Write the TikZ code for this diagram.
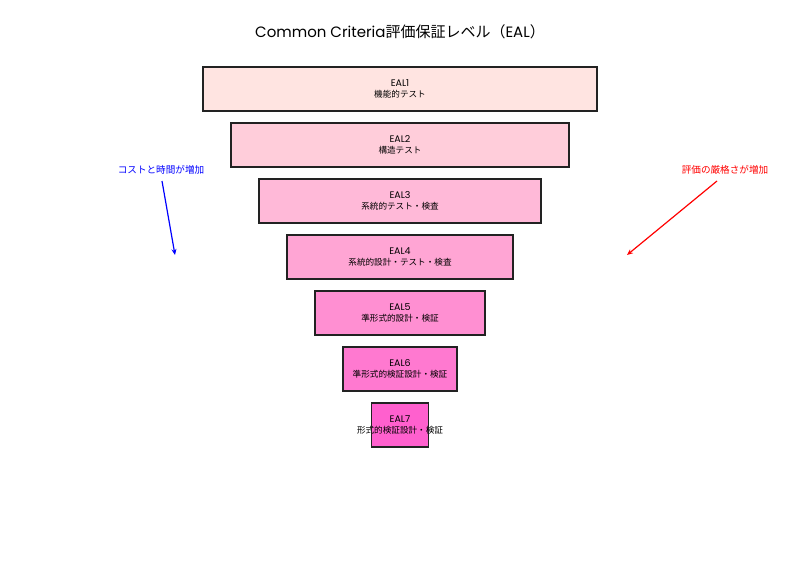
\documentclass[tikz,border=0pt]{standalone}
\usepackage{fontspec}
\setmainfont{Poppins}
\newfontfamily\jp{Noto Sans CJK JP}
\usetikzlibrary{arrows.meta}
\definecolor{c1}{RGB}{255,228,225}
\definecolor{c2}{RGB}{255,205,218}
\definecolor{c3}{RGB}{255,185,216}
\definecolor{c4}{RGB}{255,165,212}
\definecolor{c5}{RGB}{255,143,210}
\definecolor{c6}{RGB}{255,121,208}
\definecolor{c7}{RGB}{255,96,206}
\definecolor{edge}{RGB}{34,34,34}
\tikzset{
  lvl/.style={draw=edge, line width=1.6pt, minimum height=44pt, inner sep=0pt, outer sep=0pt},
  lbl/.style={align=center, inner sep=0pt, text=black},
  note/.style={font=\jp\fontsize{9.6}{11}\selectfont},
}
\newcommand{\lv}[2]{{\fontsize{9.5}{11}\selectfont #1}\\[-1pt]{\jp\fontsize{8.6}{10}\selectfont #2}}
\begin{document}
\begin{tikzpicture}[x=1pt,y=-1pt]
\useasboundingbox (0,0) rectangle (800,570);
\node (title) at (400,32) {\fontsize{15}{17}\selectfont Common Criteria{\jp 評価保証レベル（}EAL{\jp ）}};
\node[lvl, fill=c1, minimum width=394pt] (e1) at (400,89) {};
\node[lvl, fill=c2, minimum width=338pt] (e2) at (400,145) {};
\node[lvl, fill=c3, minimum width=282pt] (e3) at (400,201) {};
\node[lvl, fill=c4, minimum width=226pt] (e4) at (400,257) {};
\node[lvl, fill=c5, minimum width=170pt] (e5) at (400,313) {};
\node[lvl, fill=c6, minimum width=114pt] (e6) at (400,369) {};
\node[lvl, fill=c7, minimum width=57pt] (e7) at (400,425) {};
\node[lbl] (t1) at (e1.center) {\lv{EAL1}{機能的テスト}};
\node[lbl] (t2) at (e2.center) {\lv{EAL2}{構造テスト}};
\node[lbl] (t3) at (e3.center) {\lv{EAL3}{系統的テスト・検査}};
\node[lbl] (t4) at (e4.center) {\lv{EAL4}{系統的設計・テスト・検査}};
\node[lbl] (t5) at (e5.center) {\lv{EAL5}{準形式的設計・検証}};
\node[lbl] (t6) at (e6.center) {\lv{EAL6}{準形式的検証設計・検証}};
\node[lbl] (t7) at (e7.center) {\lv{EAL7}{形式的検証設計・検証}};
\draw[edge, line width=1.6pt] (e7.north west) rectangle (e7.south east);
\node[note, text=blue] (cost) at (161,170) {コストと時間が増加};
\node[note, text=red] (rig) at (725,170) {評価の厳格さが増加};
\coordinate (cend) at (175,255);
\coordinate (rend) at (627,255);
\draw[blue, line width=1.2pt, -{Stealth[length=6pt,width=5pt]}] (162,181) -- (cend);
\draw[red, line width=1.2pt, -{Stealth[length=6pt,width=5pt]}] (717,181) -- (rend);
\end{tikzpicture}
\end{document}
